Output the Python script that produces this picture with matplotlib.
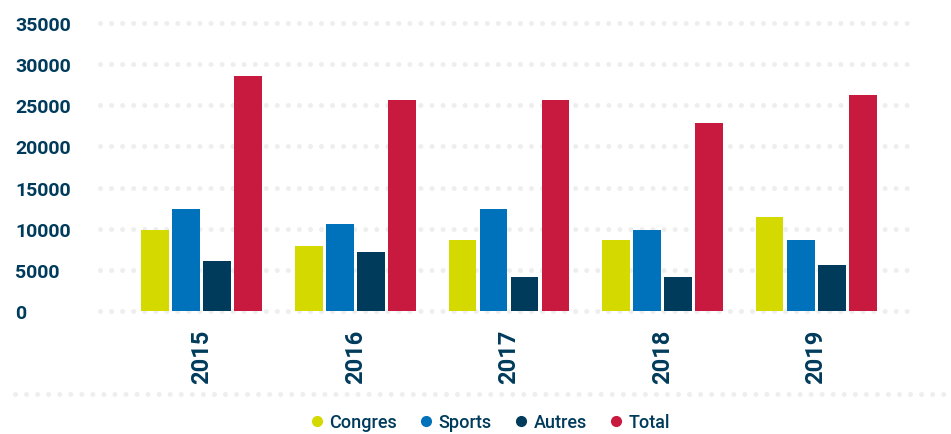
import matplotlib.pyplot as plt
import numpy as np
from matplotlib.lines import Line2D

years = ["2015", "2016", "2017", "2018", "2019"]
congres = [9800, 7900, 8600, 8600, 11400]
sports = [12400, 10600, 12400, 9800, 8600]
autres = [6100, 7200, 4100, 4100, 5600]
total = [28500, 25600, 25600, 22800, 26200]

series_names = ["Congres", "Sports", "Autres", "Total"]
colors = ["#d4d900", "#0072bb", "#003b5c", "#c8193f"]
navy = "#003b5c"
dot_grey = "#eeeeee"

plt.rcParams['font.family'] = ['Roboto', 'DejaVu Sans']

fig = plt.figure(figsize=(9.51, 4.35), dpi=100)
ax = fig.add_axes([100/951, 1 - 312/435, 812/951, 288/435])

x = np.arange(len(years))
step = 0.202
width = 0.182
for i, (vals, c) in enumerate(zip([congres, sports, autres, total], colors)):
    ax.bar(x + (i - 1.5) * step, vals, width=width, color=c, zorder=3)

ax.set_xlim(-0.664, 4.625)
ax.set_ylim(0, 35000)
ax.set_yticks(np.arange(0, 35001, 5000))

# dotted grid
ax.grid(axis='y', color=dot_grey, linewidth=3.6, linestyle=(0, (0.01, 2.2)))
ax.grid(axis='x', visible=False)
for gl in ax.get_ygridlines():
    gl.set_dash_capstyle('round')
    gl.set_clip_on(False)
ax.set_axisbelow(True)

for s in ax.spines.values():
    s.set_visible(False)

ax.set_xticks(x)
ax.set_xticklabels(years, rotation=90, fontsize=17, fontweight='bold', color=navy)
ax.tick_params(axis='x', length=0, pad=13)
ax.tick_params(axis='y', length=0, pad=61, labelsize=14, labelcolor=navy)
for lab in ax.get_yticklabels():
    lab.set_horizontalalignment('left')
    lab.set_fontweight('bold')

# separator above legend
sep = Line2D([15/951, 945/951], [1 - 395/435, 1 - 395/435], transform=fig.transFigure,
             color=dot_grey, linewidth=3.6, linestyle=(0, (0.01, 2.2)),
             dash_capstyle='round')
fig.add_artist(sep)

handles = [Line2D([], [], marker='o', linestyle='none', markersize=7,
                  markerfacecolor=c, markeredgecolor=c) for c in colors]
leg = fig.legend(handles, series_names, loc='center', bbox_to_anchor=(0.515, 1 - 423/435),
                 ncol=4, frameon=False, fontsize=13, handletextpad=0.3,
                 columnspacing=1.2, handlelength=0.8)
for t in leg.get_texts():
    t.set_color(navy)
    t.set_fontweight('medium')

fig.savefig("out.png", dpi=100)
